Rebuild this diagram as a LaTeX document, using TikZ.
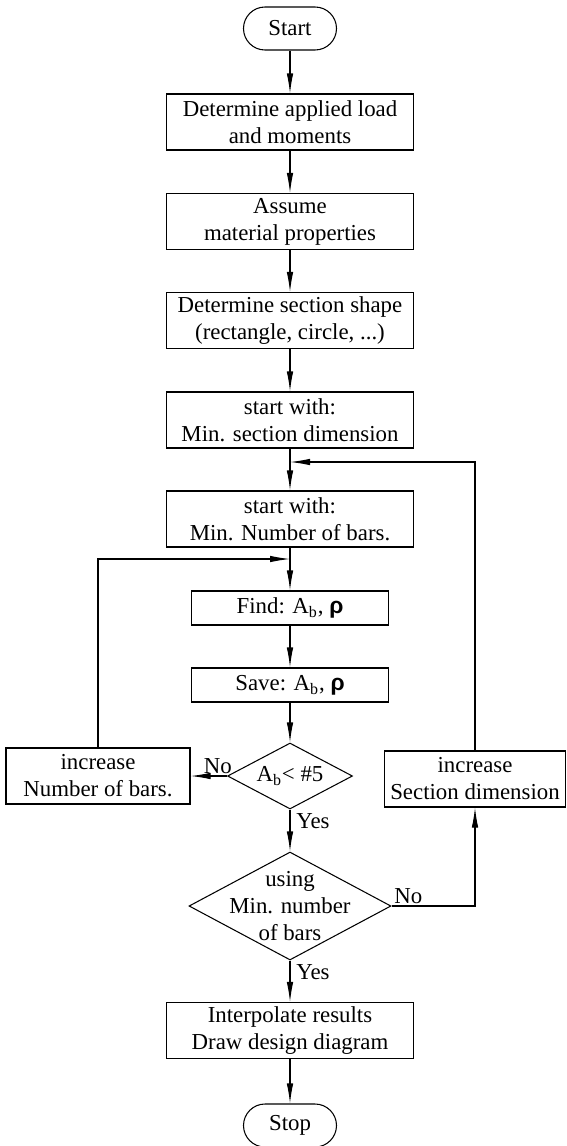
\documentclass[tikz,border=0pt]{standalone}
\usepackage{fontspec}
\setmainfont{Liberation Serif}
\newfontfamily\rhofont{Liberation Sans}
\usetikzlibrary{arrows.meta,shapes.geometric}
\newcommand{\rhosym}{{\rhofont\bfseries ρ}}

\begin{document}
\begin{tikzpicture}[x=0.2mm, y=-0.2mm, line width=0.6pt,
    every node/.style={font=\fontsize{13pt}{15.4pt}\selectfont, align=center},
    procbox/.style={draw, minimum width=49.4mm, minimum height=11.2mm, inner sep=0pt},
    smallbox/.style={minimum width=39.4mm, minimum height=6.8mm},
    terminal/.style={draw, rounded corners=4.3mm, minimum width=18.6mm, minimum height=8.6mm, inner sep=0pt},
    decision/.style={draw, diamond, inner sep=0pt},
    arr/.style={-{Latex[length=4mm,width=1.3mm]}}]
    \useasboundingbox (0,0) rectangle (566,1146);

    % Main column
    \node[terminal] (start) at (290,28.5) {Start};
    \node[procbox] (load) at (290,122) {Determine applied load\\and moments};
    \node[procbox] (material) at (290,221.5) {Assume\\material properties};
    \node[procbox] (shape) at (290,320.5) {Determine section shape\\(rectangle, circle, ...)};
    \node[procbox] (mindim) at (290,420) {start with:\\Min. section dimension};
    \node[procbox] (minbars) at (290,519) {start with:\\Min. Number of bars.};
    \node[procbox, smallbox] (find) at (290,608) {Find: A\textsubscript{b}, \rhosym};
    \node[procbox, smallbox] (save) at (290,685) {Save: A\textsubscript{b}, \rhosym};
    \node[decision, minimum width=25mm, minimum height=13.2mm] (check) at (290,776) {};
    \node (checktxt) at (check) {A\textsubscript{b}< \#5};
    \node[decision, minimum width=40.4mm, minimum height=21.6mm] (usemin) at (290,906) {};
    \node (usemintxt) at (usemin) {using\\Min. number\\of bars};
    \node[procbox] (interp) at (290,1030.5) {Interpolate results\\Draw design diagram};
    \node[terminal] (stop) at (290,1125.5) {Stop};

    % Side boxes
    \node[procbox, minimum width=36.8mm] (incbars) at (98,776) {increase\\Number of bars.};
    \node[procbox, minimum width=36.2mm] (incdim) at (475,779) {increase\\Section dimension};

    \coordinate (jdim) at (290,462);
    \coordinate (jbars) at (290,559);

    % Connectors
    \draw[arr] (start) -- (load);
    \draw[arr] (load) -- (material);
    \draw[arr] (material) -- (shape);
    \draw[arr] (shape) -- (mindim);
    \draw (mindim) -- (jdim);
    \draw[arr] (jdim) -- (minbars);
    \draw (minbars) -- (jbars);
    \draw[arr] (jbars) -- (find);
    \draw[arr] (find) -- (save);
    \draw[arr] (save) -- (check);
    \draw[arr] (check.west) -- node[above, pos=0.25, inner sep=1pt] (no1) {No} (incbars.east);
    \draw[arr] (incbars.north) |- (jbars);
    \draw[arr] (check.south) -- node[anchor=west, pos=0.27] (yes1) {Yes} (usemin.north);
    \draw[arr] (usemin.east) -| node[above, pos=0.1, inner sep=1pt] (no2) {No} (incdim.south);
    \draw[arr] (incdim.north) |- (jdim);
    \draw[arr] (usemin.south) -- node[anchor=west, pos=0.27] (yes2) {Yes} (interp.north);
    \draw[arr] (interp) -- (stop);
\end{tikzpicture}
\end{document}
